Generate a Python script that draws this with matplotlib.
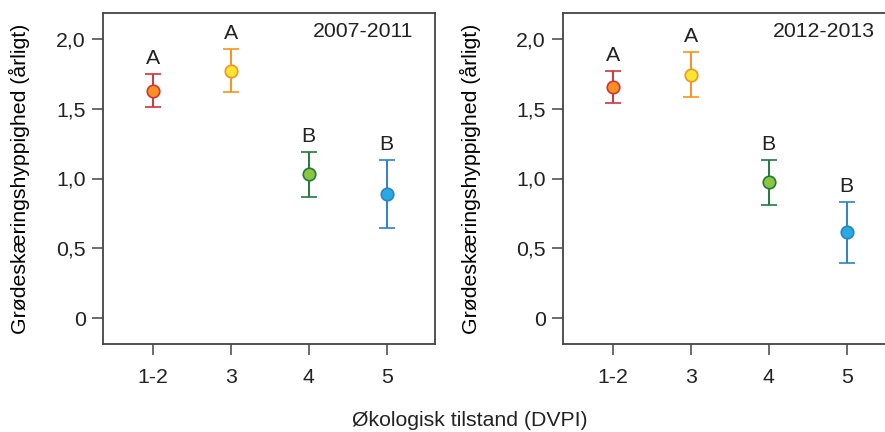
import numpy as np
import matplotlib
matplotlib.use("Agg")
from matplotlib import pyplot as plt

# data
kategorier = ["1-2", "3", "4", "5"]
middel_0711 = [1.63, 1.77, 1.03, 0.89]
oevre_0711 = [1.75, 1.925, 1.19, 1.13]
nedre_0711 = [1.51, 1.62, 0.867, 0.647]
middel_1213 = [1.656, 1.742, 0.973, 0.614]
oevre_1213 = [1.77, 1.905, 1.133, 0.83]
nedre_1213 = [1.543, 1.582, 0.812, 0.396]
bogstaver = ["A", "A", "B", "B"]
perioder = ["2007-2011", "2012-2013"]

linjefarve = ["#d2343a", "#f7941d", "#217a3c", "#2b83c6"]
fyldfarve = ["#f7901e", "#f9e634", "#8cc63f", "#27a9e1"]
kantfarve = ["#d2343a", "#f7941d", "#217a3c", "#2b83c6"]

fs = 15.3
plt.rcParams['font.family'] = ['Liberation Sans', 'DejaVu Sans']
plt.rcParams['font.size'] = fs
plt.rcParams['text.color'] = '#222222'
plt.rcParams['axes.edgecolor'] = '#444444'
plt.rcParams['xtick.color'] = '#444444'
plt.rcParams['ytick.color'] = '#444444'
plt.rcParams['xtick.labelcolor'] = '#222222'
plt.rcParams['ytick.labelcolor'] = '#222222'

W, H = 885, 432
fig = plt.figure(figsize=(W / 100, H / 100), dpi=100)
ax1 = fig.add_axes([103 / W, 1 - 344 / H, 332 / W, 331 / H])
ax2 = fig.add_axes([563 / W, 1 - 344 / H, 332 / W, 331 / H])

x = np.arange(len(kategorier))
for ax, middel, oevre, nedre, periode, tx, lx in [
        (ax1, middel_0711, oevre_0711, nedre_0711, perioder[0], 0.934, -0.22),
        (ax2, middel_1213, oevre_1213, nedre_1213, perioder[1], 0.94, -0.247)]:
    for i in range(len(kategorier)):
        fejl = [[middel[i] - nedre[i]], [oevre[i] - middel[i]]]
        ax.errorbar(x[i], middel[i], yerr=fejl, fmt='o', color=linjefarve[i],
                    ecolor=linjefarve[i], elinewidth=1.4, capsize=5.5, capthick=1.4,
                    markersize=9, markerfacecolor=fyldfarve[i],
                    markeredgecolor=kantfarve[i], markeredgewidth=1.2, zorder=3)
        ax.annotate(bogstaver[i], (x[i], oevre[i]), xytext=(0, 4.5),
                    textcoords='offset points', ha='center', va='bottom', fontsize=fs)
    ax.text(tx, 0.943, periode, transform=ax.transAxes, ha='right', va='center', fontsize=fs)
    ax.set_xlim(-0.635, 3.62)
    ax.set_ylim(-0.186, 2.186)
    ax.set_xticks(x)
    ax.set_xticklabels(kategorier)
    ax.set_yticks([0, 0.5, 1.0, 1.5, 2.0])
    ax.set_yticklabels(["0", "0,5", "1,0", "1,5", "2,0"])
    ax.tick_params(direction='out', length=8, width=1.1, pad=4.5)
    ax.tick_params(axis='x', pad=9)
    for s in ax.spines.values():
        s.set_linewidth(1.3)
    ax.set_ylabel("Grødeskæringshyppighed (årligt)", fontsize=fs)
    ax.yaxis.set_label_coords(lx, 0.5)

fig.text(470 / W, 1 - 420 / H, "Økologisk tilstand (DVPI)", ha='center', va='center', fontsize=fs)

fig.savefig("out.png", dpi=100)
